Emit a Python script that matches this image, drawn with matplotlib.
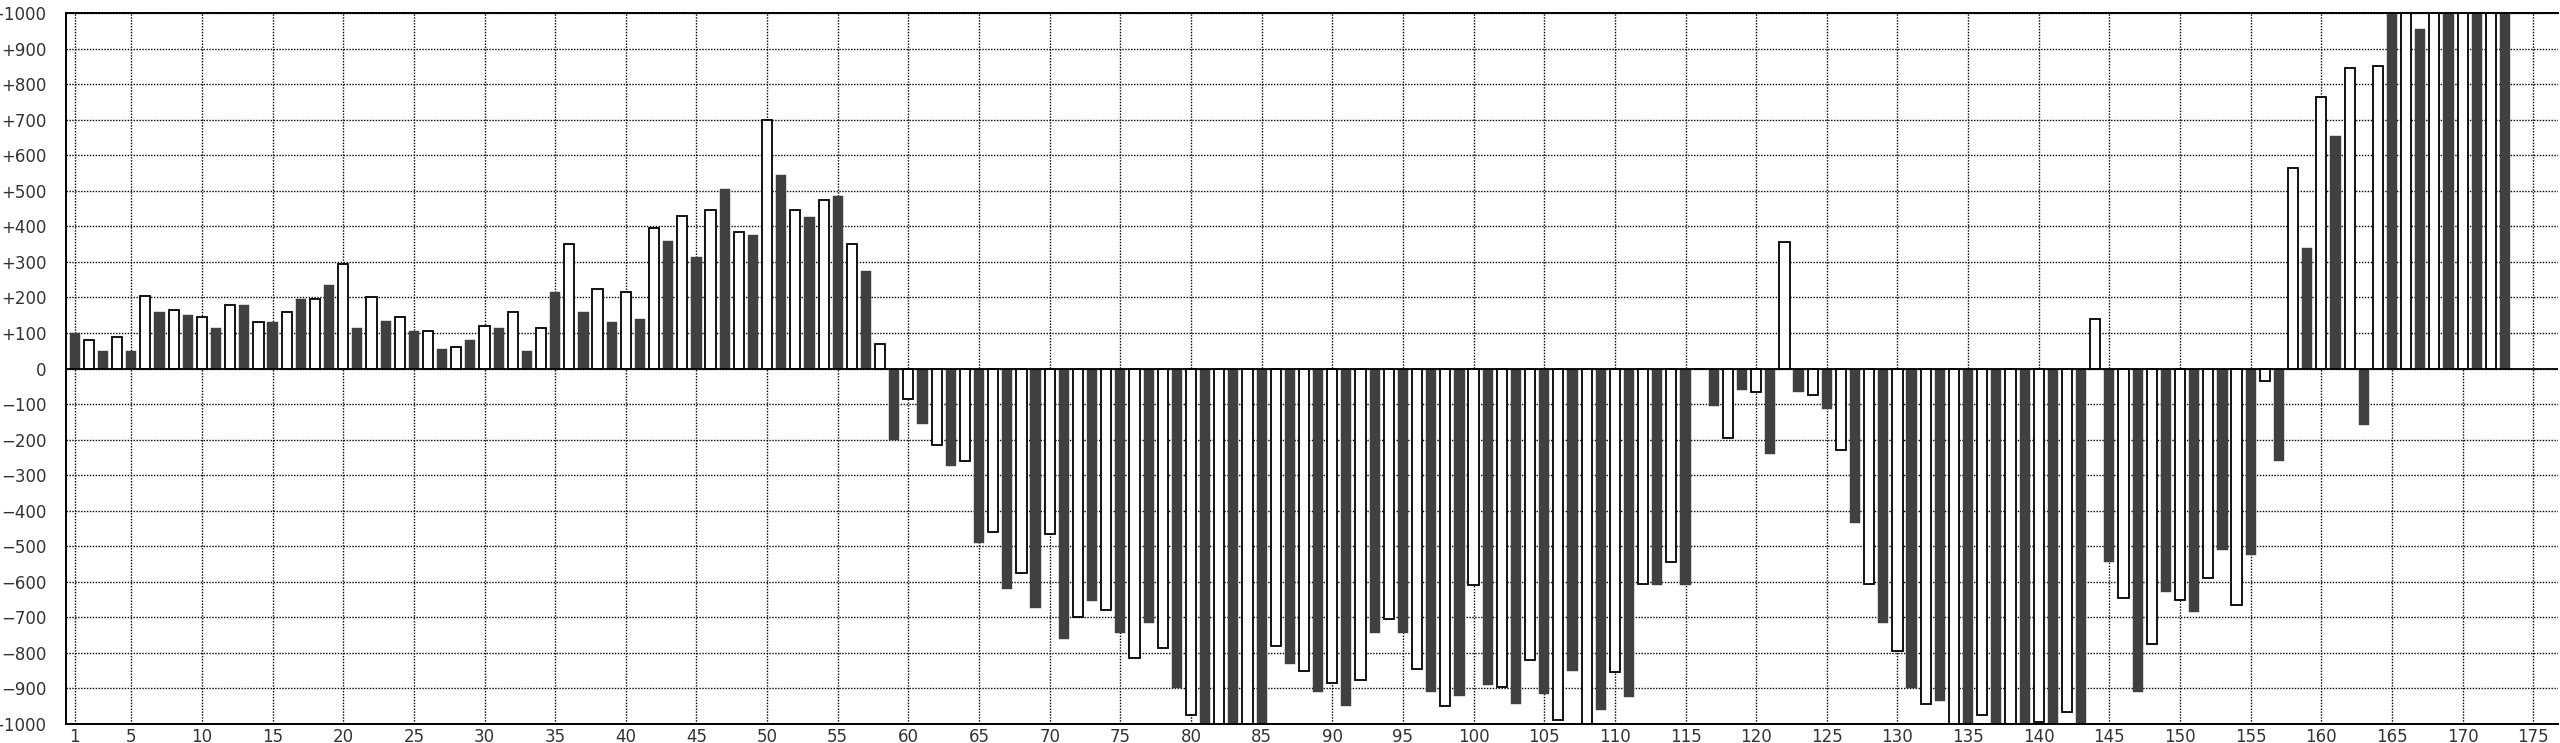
import matplotlib

matplotlib.use("Agg")
import matplotlib.pyplot as plt
from matplotlib.ticker import FixedLocator, FixedFormatter

OUT_FILE = "out.png"

# odd positions (dark bars) and even positions (white bars)
dark_x = list(range(1, 174, 2))
dark_vals = [
    100, 50, 50, 160, 150, 115, 180, 130, 195, 235,
    115, 135, 105, 55, 80, 115, 50, 215, 160, 130,
    140, 360, 315, 505, 375, 545, 425, 485, 275, -200,
    -155, -275, -490, -620, -675, -760, -655, -745, -715, -900,
    -1000, -1000, -1000, -830, -910, -950, -745, -745, -910, -920,
    -890, -945, -915, -850, -960, -925, -610, -610, -105, -60,
    -240, -65, -115, -435, -715, -900, -935, -1000, -1000, -1000,
    -1000, -1000, -545, -910, -630, -685, -510, -525, -260, 340,
    655, -160, 1000, 955, 1000, 1000, 1000,
]
light_x = list(range(2, 173, 2))
light_vals = [
    80, 90, 205, 165, 145, 180, 130, 160, 195, 295,
    200, 145, 105, 60, 120, 160, 115, 350, 225, 215,
    395, 430, 445, 385, 700, 445, 475, 350, 70, -85,
    -215, -260, -460, -575, -465, -700, -680, -815, -785, -975,
    -1000, -1000, -780, -850, -885, -875, -705, -845, -950, -610,
    -895, -820, -990, -1000, -855, -605, -545, 0, -195, -65,
    355, -75, -230, -605, -795, -945, -1000, -975, -1000, -995,
    -965, 140, -645, -775, -650, -590, -665, -35, 565, 765,
    845, 850, 1000, 1000, 1000, 1000,
]

x_ticks = [1] + list(range(5, 176, 5))
y_ticks = list(range(-1000, 1001, 100))
y_labels = ["0" if v == 0 else (f"+{v}" if v > 0 else f"\u2212{-v}") for v in y_ticks]


def main():
    fig = plt.figure(figsize=(25.6, 7.43), dpi=100)
    ax = fig.add_axes([66 / 2560, 19 / 743, (2558 - 66) / 2560, (724 - 13) / 743])

    ax.bar(dark_x, dark_vals, width=0.72, color="#404040", edgecolor="#404040", linewidth=0.3, zorder=2)
    ax.bar(light_x, light_vals, width=0.72, color="white", edgecolor="black", linewidth=1.3, zorder=2)
    ax.axhline(0, color="black", linewidth=1.3, zorder=3)

    ax.set_xlim(0.38, 176.75)
    ax.set_ylim(-1000, 1000)

    ax.xaxis.set_major_locator(FixedLocator(x_ticks))
    ax.yaxis.set_major_locator(FixedLocator(y_ticks))
    ax.yaxis.set_major_formatter(FixedFormatter(y_labels))
    ax.tick_params(axis="y", length=0, pad=14, labelsize=12, labelcolor="#333333")
    ax.tick_params(axis="x", length=0, pad=3, labelsize=12, labelcolor="#333333")

    ax.set_axisbelow(True)
    ax.grid(True, color="black", linestyle=(0, (1, 1.1)), linewidth=1.0)

    for side in ("left", "top", "bottom"):
        ax.spines[side].set_linewidth(1.4)
        ax.spines[side].set_color("black")
    ax.spines["right"].set_visible(False)

    fig.savefig(OUT_FILE, dpi=100)


if __name__ == "__main__":
    main()
